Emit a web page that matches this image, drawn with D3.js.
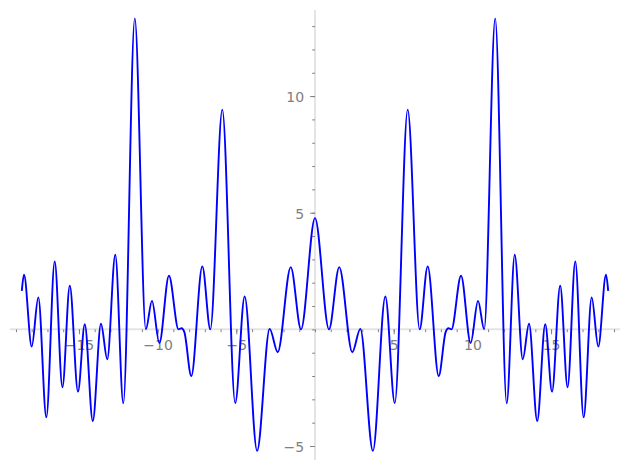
<!DOCTYPE html>
<html>
<head>
<meta charset="utf-8">
<script src="https://cdn.jsdelivr.net/npm/d3@7"></script>
<style>
  html, body { margin: 0; padding: 0; background: #ffffff; }
  svg { display: block; }
</style>
</head>
<body>
<div id="chart"></div>
<script>
// ---- data ----
const xValues = [
  -18.63, -18.49, -18.00, -17.58, -17.07, -16.54, -16.05, -15.58, -15.06, -14.63,
  -14.12, -13.60, -13.20, -12.69, -12.18, -11.45, -10.75, -10.36, -9.89, -9.28,
  -8.67, -8.48, -8.30, -7.86, -7.16, -6.65, -5.89, -5.07, -4.47, -3.68,
  -2.88, -2.37, -1.54, -0.89, 0.00,
  0.89, 1.54, 2.37, 2.88, 3.68, 4.47, 5.07, 5.89, 6.65, 7.16,
  7.86, 8.30, 8.48, 8.67, 9.28, 9.89, 10.36, 10.75, 11.45, 12.18,
  12.69, 13.20, 13.60, 14.12, 14.63, 15.06, 15.58, 16.05, 16.54, 17.07,
  17.58, 18.00, 18.49, 18.63
];
const yValues = [
  1.65, 2.34, -0.74, 1.37, -3.77, 2.91, -2.48, 1.87, -2.67, 0.22,
  -3.93, 0.24, -1.28, 3.20, -3.17, 13.33, 0.00, 1.22, -0.59, 2.30,
  0.00, 0.05, -0.12, -2.00, 2.70, 0.00, 9.42, -3.16, 1.41, -5.21,
  0.02, -0.98, 2.67, 0.00, 4.77,
  0.00, 2.67, -0.98, 0.02, -5.21, 1.41, -3.16, 9.42, 0.00, 2.70,
  -2.00, -0.12, 0.05, 0.00, 2.30, -0.59, 1.22, 0.00, 13.33, -3.17,
  3.20, -1.28, 0.24, -3.93, 0.22, -2.67, 1.87, -2.48, 2.91, -3.77,
  1.37, -0.74, 2.34, 1.65
];
const xMajorTicks = [-15, -10, -5, 5, 10, 15];
const yMajorTicks = [-5, 5, 10];
const xMinorTicks = d3.range(-19, 20, 1);
const yMinorTicks = d3.range(-5, 14, 1);
const xDomain = [-19.38, 19.38];
const yDomain = [-5.6, 13.69];

// ---- drawing ----
const W = 630, H = 470;
const plot = { left: 10, right: 620, top: 10, bottom: 460 };

const svg = d3.select("#chart").append("svg")
  .attr("width", W).attr("height", H)
  .style("background", "#ffffff");

const x = d3.scaleLinear().domain(xDomain).range([plot.left, plot.right]);
const y = d3.scaleLinear().domain(yDomain).range([plot.bottom, plot.top]);

const spineColor = "#e4e4e4";
const tickColor = "#808080";
const fontFamily = "'DejaVu Sans', sans-serif";

// spines through the origin
svg.append("line")
  .attr("x1", plot.left).attr("x2", plot.right)
  .attr("y1", y(0)).attr("y2", y(0))
  .attr("stroke", spineColor).attr("stroke-width", 2);
svg.append("line")
  .attr("x1", x(0)).attr("x2", x(0))
  .attr("y1", plot.top).attr("y2", plot.bottom)
  .attr("stroke", spineColor).attr("stroke-width", 2);

// minor ticks
const xMinor = svg.append("g").attr("transform", `translate(0,${y(0)})`)
  .call(d3.axisBottom(x).tickValues(xMinorTicks).tickSize(2.8).tickFormat(""));
const yMinor = svg.append("g").attr("transform", `translate(${x(0)},0)`)
  .call(d3.axisLeft(y).tickValues(yMinorTicks).tickSize(2.8).tickFormat(""));

// major ticks
const xMajor = svg.append("g").attr("transform", `translate(0,${y(0)})`)
  .call(d3.axisBottom(x).tickValues(xMajorTicks).tickSize(4.9).tickPadding(6));
const yMajor = svg.append("g").attr("transform", `translate(${x(0)},0)`)
  .call(d3.axisLeft(y).tickValues(yMajorTicks).tickSize(4.9).tickPadding(6));

[xMinor, yMinor, xMajor, yMajor].forEach(g => {
  g.select(".domain").remove();
  g.selectAll(".tick line").attr("stroke", tickColor).attr("stroke-width", 1);
  g.selectAll(".tick text")
    .attr("fill", tickColor)
    .style("font-family", fontFamily)
    .style("font-size", "14px");
});
yMajor.selectAll(".tick text").attr("dy", "0.42em");

// curve
const pts = xValues.map((v, i) => [v, yValues[i]]);
const line = d3.line()
  .x(d => x(d[0]))
  .y(d => y(d[1]))
  .curve(d3.curveMonotoneX);

svg.append("path")
  .datum(pts)
  .attr("d", line)
  .attr("fill", "none")
  .attr("stroke", "#0000ff")
  .attr("stroke-width", 1.9)
  .attr("stroke-linejoin", "round");
</script>
</body>
</html>
